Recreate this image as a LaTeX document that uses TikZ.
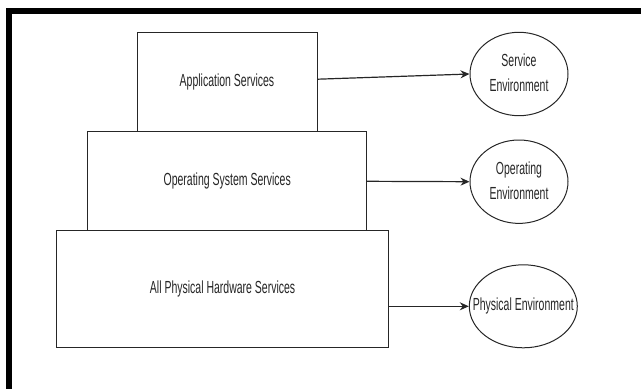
\documentclass[tikz,border=0pt]{standalone}
\usepackage{fontspec}
\setmainfont{Liberation Sans}
\usetikzlibrary{shapes.geometric,arrows.meta}
\newcommand{\narrowtxt}[1]{\scalebox{0.6}[1]{#1}}
\begin{document}
\begin{tikzpicture}[x=1pt,y=-1pt,
  box/.style={draw=black!85,line width=1pt,inner sep=0pt,fill=white,
    font=\fontsize{17.5}{25}\selectfont,text=black!85},
  env/.style={draw=black!85,line width=1pt,ellipse,inner sep=0pt},
  lab/.style={font=\fontsize{17.5}{25}\selectfont,text=black!85,inner sep=0pt},
  conn/.style={draw=black!85,line width=1.2pt,-{Stealth[length=9pt,width=8pt]}}]
\useasboundingbox (0,0) rectangle (641,389);
\fill[black] (6,8) rectangle (641,14);
\fill[black] (6,8) rectangle (12,389);
% stacked boxes
\node[box,minimum width=180pt,minimum height=99pt] (app) at (227,82.2) {\narrowtxt{Application Services}};
\node[box,minimum width=278.5pt,minimum height=99.3pt] (os) at (227.2,181.3) {\narrowtxt{Operating System Services}};
\node[box,minimum width=332.4pt,minimum height=116.7pt] (phys) at (222.6,289.3) {\narrowtxt{All Physical Hardware Services}};
% ellipses
\node[env,minimum width=98pt,minimum height=83.4pt] (se) at (519,74) {};
\node[env,minimum width=98pt,minimum height=83.4pt] (oe) at (519,181.7) {};
\node[env,minimum width=108pt,minimum height=83pt] (pe) at (523.3,306.3) {};
\node[lab] (selab) at (se.center) {\narrowtxt{\begin{tabular}{@{}c@{}}Service\\Environment\end{tabular}}};
\node[lab] (oelab) at (oe.center) {\narrowtxt{\begin{tabular}{@{}c@{}}Operating\\Environment\end{tabular}}};
\node[lab] (pelab) at (pe.center) {\narrowtxt{Physical Environment}};
% connectors
\draw[conn] ([yshift=3pt]app.east) -- (se.west);
\draw[conn] (os.east) -- (oe.west);
\draw[conn] (pe.west -| phys.east) -- (pe.west);
\end{tikzpicture}
\end{document}
